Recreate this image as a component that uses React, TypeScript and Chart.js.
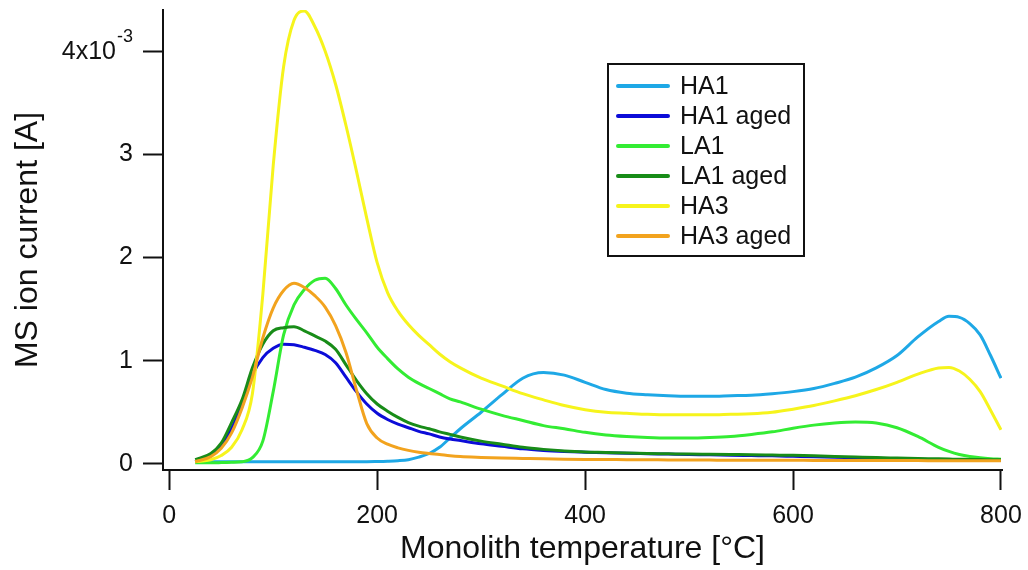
import { useEffect, useRef } from "react";
import { Chart, registerables } from "chart.js";

Chart.register(...registerables);

// Monolith temperature [°C] at which the traces are sampled
const temperatures = [
  25, 40, 50, 60, 70, 80, 90, 100, 110, 120, 130, 140, 150, 160, 170, 180, 190,
  200, 210, 220, 230, 240, 250, 260, 270, 280, 300, 320, 340, 360, 380, 400, 420,
  440, 460, 480, 500, 520, 540, 560, 580, 600, 620, 640, 660, 680, 700, 720, 740,
  750, 760, 770, 780, 790, 800,
];

// MS ion current, in units of 10^-3 A
const ha1 = [
  0.02, 0.02, 0.02, 0.02, 0.02, 0.02, 0.02, 0.02, 0.02, 0.02, 0.02, 0.02, 0.02, 0.02, 0.02, 0.02, 0.02,
  0.022, 0.025, 0.03, 0.04, 0.065, 0.1, 0.16, 0.25, 0.34, 0.5, 0.67, 0.83, 0.885, 0.86, 0.79, 0.72,
  0.685, 0.67, 0.66, 0.655, 0.655, 0.66, 0.665, 0.68, 0.7, 0.73, 0.78, 0.84, 0.93, 1.05, 1.23, 1.38,
  1.43, 1.42, 1.36, 1.25, 1.05, 0.83,
];
const ha1Aged = [
  0.02, 0.08, 0.17, 0.34, 0.58, 0.86, 1.03, 1.12, 1.16, 1.155, 1.13, 1.1, 1.06, 0.98, 0.84, 0.7, 0.58,
  0.49, 0.43, 0.385, 0.35, 0.315, 0.29, 0.26, 0.24, 0.225, 0.195, 0.17, 0.145, 0.13, 0.12, 0.113, 0.107,
  0.102, 0.098, 0.094, 0.09, 0.087, 0.083, 0.08, 0.077, 0.073, 0.069, 0.064, 0.058, 0.053, 0.048, 0.044, 0.04,
  0.038, 0.036, 0.034, 0.033, 0.032, 0.031,
];
const la1 = [
  0.01, 0.01, 0.012, 0.015, 0.02, 0.06, 0.22, 0.7, 1.25, 1.54, 1.69, 1.78, 1.8, 1.7, 1.54, 1.4, 1.27,
  1.13, 1.02, 0.92, 0.84, 0.78, 0.73, 0.68, 0.63, 0.6, 0.53, 0.47, 0.42, 0.37, 0.34, 0.305, 0.28,
  0.265, 0.255, 0.25, 0.25, 0.255, 0.265, 0.285, 0.31, 0.345, 0.375, 0.395, 0.405, 0.395, 0.35, 0.265, 0.16,
  0.12, 0.09, 0.07, 0.058, 0.05, 0.045,
];
const la1Aged = [
  0.04, 0.1, 0.2, 0.4, 0.62, 0.93, 1.16, 1.29, 1.32, 1.33, 1.29, 1.24, 1.19, 1.11, 0.96, 0.81, 0.68,
  0.58, 0.51, 0.45, 0.4, 0.365, 0.34, 0.31, 0.285, 0.26, 0.22, 0.19, 0.16, 0.14, 0.125, 0.115, 0.11,
  0.104, 0.1, 0.097, 0.094, 0.092, 0.09, 0.088, 0.085, 0.082, 0.078, 0.072, 0.066, 0.06, 0.056, 0.052, 0.048,
  0.046, 0.044, 0.043, 0.041, 0.04, 0.039,
];
const ha3 = [
  0.02, 0.04, 0.08, 0.16, 0.33, 0.68, 1.64, 2.89, 3.85, 4.3, 4.39, 4.24, 4.0, 3.68, 3.28, 2.84, 2.38,
  1.95, 1.66, 1.48, 1.35, 1.245, 1.155, 1.065, 0.99, 0.93, 0.83, 0.755, 0.68, 0.62, 0.565, 0.525, 0.5,
  0.49, 0.48, 0.475, 0.475, 0.475, 0.48, 0.485, 0.5, 0.53, 0.565, 0.61, 0.66, 0.72, 0.79, 0.87, 0.93,
  0.935, 0.9, 0.82, 0.7, 0.52, 0.33,
];
const ha3Aged = [
  0.02, 0.07, 0.15, 0.3, 0.54, 0.84, 1.22, 1.51, 1.68, 1.75, 1.71, 1.63, 1.52, 1.34, 1.08, 0.72, 0.39,
  0.25, 0.19, 0.155, 0.13, 0.112, 0.1, 0.09, 0.078, 0.07, 0.062, 0.056, 0.052, 0.048, 0.045, 0.043, 0.042,
  0.04, 0.039, 0.038, 0.037, 0.036, 0.035, 0.035, 0.034, 0.034, 0.033, 0.033, 0.032, 0.032, 0.031, 0.031, 0.03,
  0.03, 0.03, 0.03, 0.03, 0.03, 0.03,
];

const seriesNames = ["HA1", "HA1 aged", "LA1", "LA1 aged", "HA3", "HA3 aged"];
const seriesValues = [ha1, ha1Aged, la1, la1Aged, ha3, ha3Aged];
const seriesColors = ["#1ea8e6", "#0c0cd8", "#33ec33", "#188c18", "#f6f41c", "#f2a31e"];

const xTicks = [0, 200, 400, 600, 800];
const yTicks = [0, 1, 2, 3, 4];
const xTitle = "Monolith temperature [°C]";
const yTitle = "MS ion current [A]";
const topTickBase = "4x10";
const topTickExponent = "-3";

const FONT = "'Liberation Sans', Arial, Helvetica, sans-serif";

// Legend box inside the plot and the exponent label of the top y tick
const decorations = {
  id: "decorations",
  afterDraw(chart: any) {
    const ctx = chart.ctx as CanvasRenderingContext2D;
    const yScale = chart.scales.y;
    ctx.save();

    // top tick label with superscript exponent
    const yTop = yScale.getPixelForValue(yTicks[yTicks.length - 1]);
    ctx.fillStyle = "#111";
    ctx.textBaseline = "middle";
    ctx.textAlign = "right";
    ctx.font = `18px ${FONT}`;
    ctx.fillText(topTickExponent, 133, yTop - 14);
    const expWidth = ctx.measureText(topTickExponent).width;
    ctx.font = `25px ${FONT}`;
    ctx.fillText(topTickBase, 133 - expWidth - 1, yTop + 1);

    // legend
    const boxLeft = 608;
    const boxTop = 64;
    const boxWidth = 196;
    const rowHeight = 30;
    const boxHeight = 192;
    ctx.fillStyle = "#fff";
    ctx.fillRect(boxLeft, boxTop, boxWidth, boxHeight);
    ctx.strokeStyle = "#111";
    ctx.lineWidth = 2;
    ctx.strokeRect(boxLeft, boxTop, boxWidth, boxHeight);

    ctx.textAlign = "left";
    ctx.font = `25px ${FONT}`;
    chart.data.datasets.forEach((ds: any, i: number) => {
      const y = boxTop + 22 + i * rowHeight;
      ctx.strokeStyle = ds.borderColor;
      ctx.lineWidth = 4;
      ctx.lineCap = "round";
      ctx.beginPath();
      ctx.moveTo(boxLeft + 10, y);
      ctx.lineTo(boxLeft + 60, y);
      ctx.stroke();
      ctx.fillStyle = "#111";
      ctx.fillText(ds.label, boxLeft + 72, y + 1);
    });
    ctx.restore();
  },
};

export default function App() {
  const canvasRef = useRef<HTMLCanvasElement | null>(null);

  useEffect(() => {
    const canvas = canvasRef.current;
    if (!canvas) return;

    const n = seriesNames.length;
    const datasets = seriesNames.map((name, i) => ({
      label: name,
      data: temperatures.map((t, k) => ({ x: t, y: seriesValues[i][k] })),
      borderColor: seriesColors[i],
      backgroundColor: seriesColors[i],
      borderWidth: 3,
      pointRadius: 0,
      fill: false,
      cubicInterpolationMode: "monotone" as const,
      // later series are painted on top
      order: n - 1 - i,
    }));

    const tickFont = { family: FONT, size: 25 };

    const chart = new Chart(canvas, {
      type: "line",
      data: { datasets },
      options: {
        animation: false,
        responsive: false,
        devicePixelRatio: 1,
        layout: { padding: { top: 10, right: 26, bottom: 0, left: 0 } },
        plugins: {
          legend: { display: false },
          tooltip: { enabled: false },
        },
        scales: {
          x: {
            type: "linear",
            min: -6,
            max: 801,
            afterBuildTicks: (scale: any) => {
              scale.ticks = xTicks.map((v) => ({ value: v }));
            },
            afterFit: (scale: any) => {
              scale.height = 100;
              scale.paddingLeft = 0;
              scale.paddingRight = 0;
            },
            border: { display: true, color: "#111", width: 2 },
            grid: {
              drawOnChartArea: false,
              drawTicks: true,
              tickLength: 20,
              tickWidth: 2,
              tickColor: "#111",
            },
            ticks: {
              color: "#111",
              font: tickFont,
              padding: 11,
              maxRotation: 0,
              autoSkip: false,
              callback: (v: any) => String(v),
            },
            title: {
              display: true,
              text: xTitle,
              color: "#111",
              font: { family: FONT, size: 32 },
              padding: { top: 0, bottom: 2 },
            },
          },
          y: {
            type: "linear",
            min: -0.06,
            max: 4.4,
            afterBuildTicks: (scale: any) => {
              scale.ticks = yTicks.map((v) => ({ value: v }));
            },
            afterFit: (scale: any) => {
              scale.width = 163;
              scale.paddingTop = 0;
              scale.paddingBottom = 0;
            },
            border: { display: true, color: "#111", width: 2 },
            grid: {
              drawOnChartArea: false,
              drawTicks: true,
              tickLength: 20,
              tickWidth: 2,
              tickColor: "#111",
            },
            ticks: {
              color: "#111",
              font: tickFont,
              padding: 10,
              autoSkip: false,
              callback: (v: any) => (v === yTicks[yTicks.length - 1] ? "" : String(v)),
            },
            title: {
              display: true,
              text: yTitle,
              color: "#111",
              font: { family: FONT, size: 32 },
              padding: { top: 9, bottom: 0 },
            },
          },
        },
      },
      plugins: [decorations],
    });

    return () => chart.destroy();
  }, []);

  return (
    <canvas
      ref={canvasRef}
      width={1028}
      height={570}
      style={{ position: "fixed", left: 0, top: 0, width: "1028px", height: "570px", background: "#fff" }}
    />
  );
}
